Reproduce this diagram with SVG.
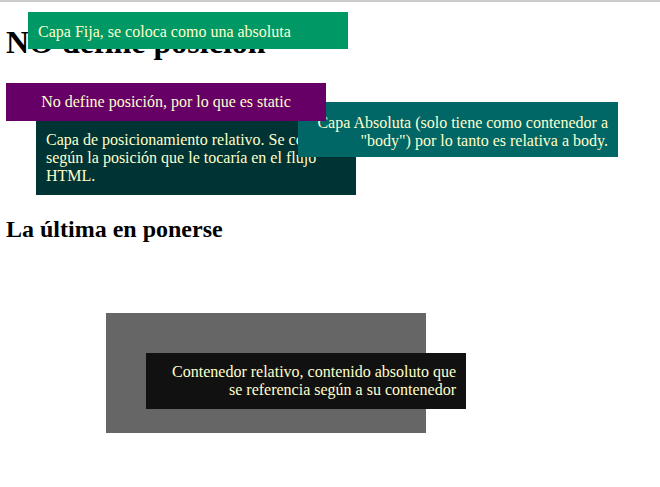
<svg xmlns="http://www.w3.org/2000/svg" width="660" height="487" viewBox="0 0 660 487">
<style>
  .t { font-family: "Liberation Serif", "Times New Roman", serif; font-size: 16px; fill: #ffffcc; }
  .h { font-family: "Liberation Serif", "Times New Roman", serif; font-weight: bold; fill: #000; }
</style>
<rect x="0" y="0" width="660" height="487" fill="#ffffff"/>
<line x1="0" y1="1" x2="660" y2="1" stroke="#cccccc" stroke-width="2"/>
<g id="heading1"><text class="h" x="6" y="53" font-size="32">NO define posición</text></g>
<g id="relativa">
  <rect x="36" y="120" width="320" height="75" fill="#003333"/>
  <text class="t" x="46" y="145">Capa de posicionamiento relativo. Se coloca</text>
  <text class="t" x="46" y="163">según la posición que le tocaría en el flujo</text>
  <text class="t" x="46" y="181">HTML.</text>
</g>
<g id="absoluta">
  <rect x="298" y="102" width="320" height="55" fill="#006666"/>
  <text class="t" x="608" y="128" text-anchor="end">Capa Absoluta (solo tiene como contenedor a</text>
  <text class="t" x="608" y="146" text-anchor="end">"body") por lo tanto es relativa a body.</text>
</g>
<g id="static">
  <rect x="6" y="83" width="320" height="38" fill="#660066"/>
  <text class="t" x="166" y="107" text-anchor="middle">No define posición, por lo que es static</text>
</g>
<g id="heading2"><text class="h" x="6" y="237" font-size="24">La última en ponerse</text></g>
<g id="contenedor">
  <rect x="106" y="313" width="320" height="120" fill="#666666"/>
</g>
<g id="contenido">
  <rect x="146" y="353" width="320" height="56" fill="#111111"/>
  <text class="t" x="456" y="377" text-anchor="end">Contenedor relativo, contenido absoluto que</text>
  <text class="t" x="456" y="395" text-anchor="end">se referencia según a su contenedor</text>
</g>
<g id="fija">
  <rect x="28" y="12" width="320" height="37" fill="#009966"/>
  <text class="t" x="38" y="37">Capa Fija, se coloca como una absoluta</text>
</g>
<g id="connectors"/>
</svg>
